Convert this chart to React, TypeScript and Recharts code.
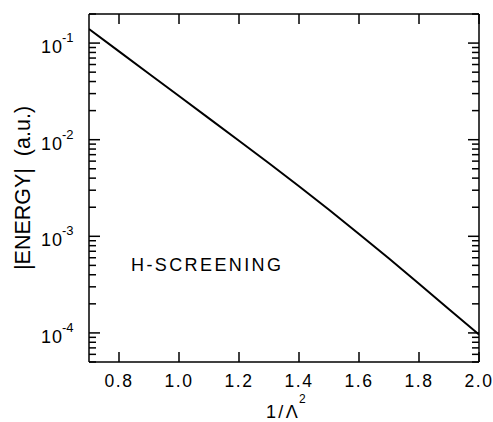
import React from 'react';
import { LineChart, Line, XAxis, YAxis, ReferenceDot } from 'recharts';

// 1/Lambda^2 sample points and |energy|
const invLambda2 = [0.7, 0.8, 0.9, 1.0, 1.1, 1.2, 1.3, 1.4, 1.5, 1.6, 1.7, 1.8, 1.9, 2.0];
const energy = [
  0.1396, 0.082, 0.0482, 0.0283, 0.01663, 0.00976, 0.00571, 0.0033, 0.00188, 0.001058,
  0.000589, 0.000323, 0.000176, 0.0000962,
];

const xTicks = [0.8, 1.0, 1.2, 1.4, 1.6, 1.8, 2.0];
const xTickLabels = ['0.8', '1.0', '1.2', '1.4', '1.6', '1.8', '2.0'];
const decades = [-5, -4, -3, -2, -1];
const minorSteps = [1, 2, 3, 4, 5, 6, 7, 8, 9];
const yDomain: [number, number] = [5e-5, 0.2];

const annotation = { x: 0.84, y: 4.4e-4, text: 'H-SCREENING' };

const FONT = '"Liberation Sans", Arial, Helvetica, sans-serif';

// all decade and minor tick positions inside the domain
const yTicks: number[] = [];
decades.forEach((d) => {
  minorSteps.forEach((m) => {
    const v = m * Math.pow(10, d);
    if (v >= yDomain[0] * 0.999 && v <= yDomain[1] * 1.001) yTicks.push(v);
  });
});

const data = invLambda2.map((x, i) => ({ x, e: energy[i] }));

const isDecade = (v: number) => {
  const l = Math.log10(v);
  return Math.abs(l - Math.round(l)) < 1e-6;
};

function LeftTick(props: any) {
  const { x, y, payload } = props;
  const major = isDecade(payload.value);
  const exp = Math.round(Math.log10(payload.value));
  return (
    <g>
      <line x1={x} x2={x + (major ? 11 : 7)} y1={y} y2={y} stroke="#000" strokeWidth={1.5} />
      {major && (
        <>
          <text x={x - 48} y={y + 10} fontSize={18} fontFamily={FONT} letterSpacing={1} fill="#000">
            10
          </text>
          <text x={x - 27} y={y - 1} fontSize={13} fontFamily={FONT} fill="#000">
            {exp}
          </text>
        </>
      )}
    </g>
  );
}

function RightTick(props: any) {
  const { x, y, payload } = props;
  const major = isDecade(payload.value);
  return <line x1={x} x2={x - (major ? 11 : 7)} y1={y} y2={y} stroke="#000" strokeWidth={1.5} />;
}

function BottomTick(props: any) {
  const { x, y, payload } = props;
  const idx = xTicks.findIndex((t) => Math.abs(t - payload.value) < 1e-9);
  return (
    <g>
      <line x1={x} x2={x} y1={y} y2={y - 10} stroke="#000" strokeWidth={1.5} />
      <text
        x={x}
        y={y + 25}
        textAnchor="middle"
        fontSize={17.5}
        letterSpacing={1.6}
        fontFamily={FONT}
        fill="#000"
      >
        {xTickLabels[idx]}
      </text>
    </g>
  );
}

function TopTick(props: any) {
  const { x, y } = props;
  return <line x1={x} x2={x} y1={y} y2={y + 10} stroke="#000" strokeWidth={1.5} />;
}

export default function App() {
  return (
    <div style={{ position: 'absolute', left: 0, top: 0, background: '#fff' }}>
      <LineChart width={493} height={422} data={data} margin={{ top: 13, right: 13, bottom: 0, left: 0 }}>
        <XAxis
          xAxisId="b"
          dataKey="x"
          type="number"
          domain={[0.7, 2.0]}
          ticks={xTicks}
          allowDataOverflow
          height={60}
          tickSize={0}
          tickMargin={0}
          tickLine={false}
          axisLine={{ stroke: '#000', strokeWidth: 1.5 }}
          tick={(p: any) => <BottomTick {...p} />}
          interval={0}
          label={{
            content: (p: any) => {
              const vb = p.viewBox;
              const cx = vb.x + vb.width / 2;
              return (
                <g>
                  <text
                    x={cx - 1}
                    y={418}
                    textAnchor="middle"
                    fontSize={18}
                    letterSpacing={2.4}
                    fontFamily={FONT}
                    fill="#000"
                  >
                    1/Λ
                  </text>
                  <text x={cx + 15} y={403} fontSize={12} fontFamily={FONT} fill="#000">
                    2
                  </text>
                </g>
              );
            },
          }}
        />
        <XAxis
          xAxisId="t"
          dataKey="x"
          type="number"
          orientation="top"
          domain={[0.7, 2.0]}
          ticks={xTicks}
          allowDataOverflow
          height={1}
          tickSize={0}
          tickMargin={0}
          tickLine={false}
          axisLine={{ stroke: '#000', strokeWidth: 1.5 }}
          tick={(p: any) => <TopTick {...p} />}
          interval={0}
        />
        <YAxis
          yAxisId="l"
          type="number"
          scale="log"
          domain={yDomain}
          ticks={yTicks}
          allowDataOverflow
          width={89}
          tickSize={0}
          tickMargin={0}
          tickLine={false}
          axisLine={{ stroke: '#000', strokeWidth: 1.5 }}
          tick={(p: any) => <LeftTick {...p} />}
          interval={0}
          label={{
            content: (p: any) => {
              const vb = p.viewBox;
              const cy = vb.y + vb.height / 2;
              return (
                <text
                  x={30}
                  y={cy}
                  transform={`rotate(-90 30 ${cy})`}
                  textAnchor="middle"
                  fontSize={21.5}
                  fontFamily={FONT}
                  fill="#000"
                  style={{ whiteSpace: 'pre' }}
                >
                  {'|ENERGY|  (a.u.)'}
                </text>
              );
            },
          }}
        />
        <YAxis
          yAxisId="r"
          orientation="right"
          type="number"
          scale="log"
          domain={yDomain}
          ticks={yTicks}
          allowDataOverflow
          width={1}
          tickSize={0}
          tickMargin={0}
          tickLine={false}
          axisLine={{ stroke: '#000', strokeWidth: 1.5 }}
          tick={(p: any) => <RightTick {...p} />}
          interval={0}
        />
        <Line
          xAxisId="t"
          yAxisId="r"
          dataKey="e"
          stroke="none"
          dot={false}
          activeDot={false}
          isAnimationActive={false}
          legendType="none"
        />
        <Line
          xAxisId="b"
          yAxisId="l"
          type="linear"
          dataKey="e"
          stroke="#000"
          strokeWidth={2}
          dot={false}
          activeDot={false}
          isAnimationActive={false}
        />
        <ReferenceDot
          xAxisId="b"
          yAxisId="l"
          x={annotation.x}
          y={annotation.y}
          r={0}
          fill="none"
          stroke="none"
          label={{
            content: (p: any) => {
              const vb = p.viewBox;
              return (
                <text
                  x={vb.x}
                  y={vb.y}
                  fontSize={18}
                  letterSpacing={2.4}
                  fontFamily={FONT}
                  fill="#000"
                >
                  {annotation.text}
                </text>
              );
            },
          }}
        />
      </LineChart>
    </div>
  );
}
